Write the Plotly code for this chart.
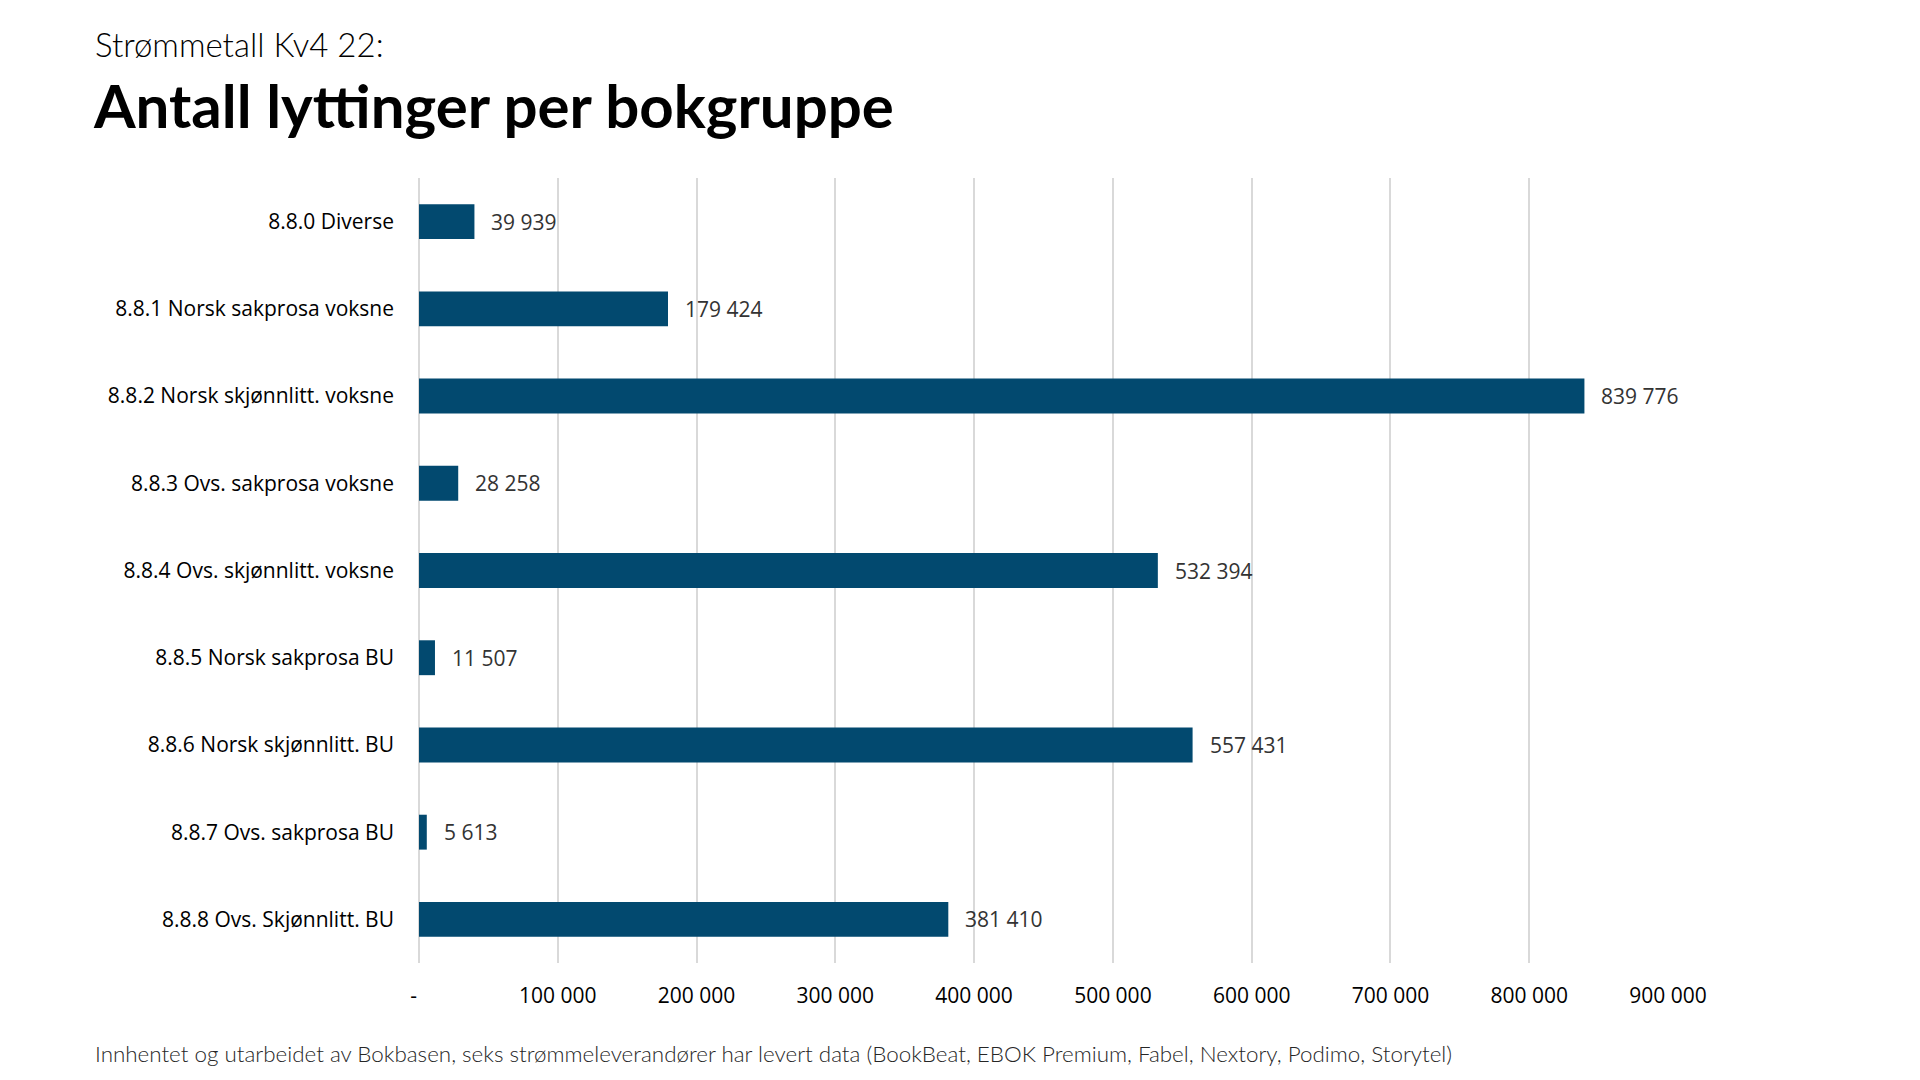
import plotly.graph_objects as go

# Strømmetall Kv4 22 - lyttinger per bokgruppe
categories = [
    "8.8.0 Diverse",
    "8.8.1 Norsk sakprosa voksne",
    "8.8.2 Norsk skjønnlitt. voksne",
    "8.8.3 Ovs. sakprosa voksne",
    "8.8.4 Ovs. skjønnlitt. voksne",
    "8.8.5 Norsk sakprosa BU",
    "8.8.6 Norsk skjønnlitt. BU",
    "8.8.7 Ovs. sakprosa BU",
    "8.8.8 Ovs. Skjønnlitt. BU",
]
lyttinger = [39939, 179424, 839776, 28258, 532394, 11507, 557431, 5613, 381410]

tick_vals = [0, 100000, 200000, 300000, 400000, 500000, 600000, 700000, 800000, 900000]
tick_text = ["-\u00a0\u00a0", "100 000", "200 000", "300 000", "400 000", "500 000",
             "600 000", "700 000", "800 000", "900 000"]

subtitle = "Strømmetall Kv4 22:"
title = "Antall lyttinger per bokgruppe"
source = ("Innhentet og utarbeidet av Bokbasen, seks strømmeleverandører har levert data "
          "(BookBeat, EBOK Premium, Fabel, Nextory, Podimo, Storytel)")

BAR_COLOR = "#02496F"
LABEL_FONT = "Open Sans"
TITLE_FONT = "Lato"


def fmt(v):
    return f"{v:,}".replace(",", " ")


# margins in px (plot area 419..1668 x 178..963)
L, R, T, B = 419, 252, 178, 117
W, H = 1920, 1080
pw, ph = W - L - R, H - T - B


def px_x(x):
    return (x - L) / pw


def px_y(y):
    return (H - B - y) / ph


fig = go.Figure()
fig.add_trace(go.Bar(
    x=lyttinger,
    y=categories,
    orientation="h",
    marker=dict(color=BAR_COLOR, line=dict(width=0)),
    hoverinfo="skip",
))

# value labels right of each bar
for cat, v in zip(categories, lyttinger):
    fig.add_annotation(
        x=v, y=cat, text=fmt(v), showarrow=False,
        xanchor="left", yanchor="middle", xshift=15,
        font=dict(family=LABEL_FONT, size=21, color="#333333"),
    )

fig.add_annotation(
    xref="paper", yref="paper", x=px_x(93), y=px_y(44),
    text=subtitle, showarrow=False, xanchor="left", yanchor="middle",
    font=dict(family=TITLE_FONT, size=33, color="#000000", weight=300),
)
fig.add_annotation(
    xref="paper", yref="paper", x=px_x(91), y=px_y(105),
    text=title, showarrow=False, xanchor="left", yanchor="middle",
    font=dict(family=TITLE_FONT, size=60, color="#000000", weight="bold"),
)
fig.add_annotation(
    xref="paper", yref="paper", x=px_x(93), y=px_y(1053),
    text=source, showarrow=False, xanchor="left", yanchor="middle",
    font=dict(family=TITLE_FONT, size=22.4, color="#262626", weight=300),
)

fig.update_layout(
    width=W, height=H,
    margin=dict(l=L, r=R, t=T, b=B, pad=0),
    paper_bgcolor="white", plot_bgcolor="white",
    bargap=0.6,
    showlegend=False,
)
fig.update_xaxes(
    range=[0, 900000],
    tickvals=tick_vals, ticktext=tick_text,
    showgrid=True, gridcolor="#D9D9D9", gridwidth=2,
    zeroline=True, zerolinecolor="#D9D9D9", zerolinewidth=2,
    showline=False, ticks="",
    ticklabelstandoff=18,
    tickfont=dict(family=LABEL_FONT, size=21, color="#000000"),
)
fig.update_yaxes(
    autorange="reversed",
    showgrid=False, showline=False, ticks="",
    ticklabelstandoff=24,
    tickfont=dict(family=LABEL_FONT, size=21, color="#000000"),
)

# the page's default body margin would shift the figure by 8px
fig.write_html("out.html", config={"displayModeBar": False},
               post_script="document.body.style.margin='0';")
